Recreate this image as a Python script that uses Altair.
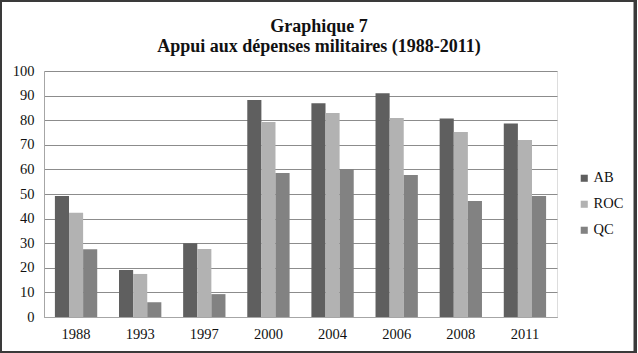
import altair as alt
import pandas as pd

years = ["1988", "1993", "1997", "2000", "2004", "2006", "2008", "2011"]
ab = [49.2, 19.1, 30.0, 88.2, 86.9, 91.0, 80.7, 78.7]
roc = [42.4, 17.5, 27.6, 79.3, 82.9, 80.9, 75.2, 72.0]
qc = [27.5, 6.0, 9.3, 58.5, 60.2, 57.7, 47.2, 49.2]
series = ["AB", "ROC", "QC"]
colors = ["#5f5f5f", "#b2b2b2", "#828282"]
title_lines = ["Graphique 7", "Appui aux dépenses militaires (1988-2011)"]

rows = []
for i, y in enumerate(years):
    for s, vals in zip(series, [ab, roc, qc]):
        rows.append({"year": y, "series": s, "value": vals[i]})
df = pd.DataFrame(rows)
one = pd.DataFrame({"k": [0]})

W, H = 513, 246
FONT = "Liberation Serif"
FS = 14.5

bars = alt.Chart(df).mark_bar().encode(
    x=alt.X("year:N", sort=years,
            scale=alt.Scale(paddingInner=0.34, paddingOuter=0.17),
            axis=alt.Axis(title=None, labelAngle=0, ticks=False, labelPadding=10,
                          domainColor="#a6a6a6", labelFontSize=FS, labelFont=FONT,
                          labelColor="#111111")),
    xOffset=alt.XOffset("series:N", sort=series),
    y=alt.Y("value:Q", scale=alt.Scale(domain=[0, 100]),
            axis=alt.Axis(title=None, values=list(range(0, 101, 10)), ticks=False,
                          labelPadding=10, domainColor="#a6a6a6", gridColor="#8c8c8c",
                          labelFontSize=FS, labelFont=FONT, labelColor="#111111")),
    color=alt.Color("series:N", sort=series,
                    scale=alt.Scale(domain=series, range=colors),
                    legend=alt.Legend(title=None, orient="none", legendX=533, legendY=100,
                                      symbolType="square", symbolSize=50,
                                      symbolStrokeWidth=0, labelFontSize=FS,
                                      labelFont=FONT, labelColor="#111111",
                                      rowPadding=11, labelOffset=2)),
)

t1 = alt.Chart(one).mark_text(text=title_lines[0], font=FONT, fontSize=18,
                              fontWeight="bold", color="#111111", baseline="alphabetic",
                              align="center").encode(x=alt.value(275), y=alt.value(-39.5))
t2 = alt.Chart(one).mark_text(text=title_lines[1], font=FONT, fontSize=18,
                              fontWeight="bold", color="#111111", baseline="alphabetic",
                              align="center").encode(x=alt.value(275), y=alt.value(-19))

frame = alt.Chart(one).mark_rect(fill=None, stroke="#3a3a3a", strokeWidth=2).encode(
    x=alt.value(-43), x2=alt.value(592), y=alt.value(-70), y2=alt.value(281)
)
rframe = alt.Chart(one).mark_rule(stroke="#3a3a3a", strokeWidth=3).encode(
    x=alt.value(591), y=alt.value(-70), y2=alt.value(281)
)

chart = alt.layer(bars, t1, t2, frame, rframe).properties(
    width=W, height=H,
    autosize=alt.AutoSizeParams(type="none"),
    padding={"left": 44, "top": 71, "right": 81, "bottom": 36},
).configure_view(stroke=None).configure(background="white", font=FONT)

chart.save("out.html", embed_options={"renderer": "svg", "actions": False})
